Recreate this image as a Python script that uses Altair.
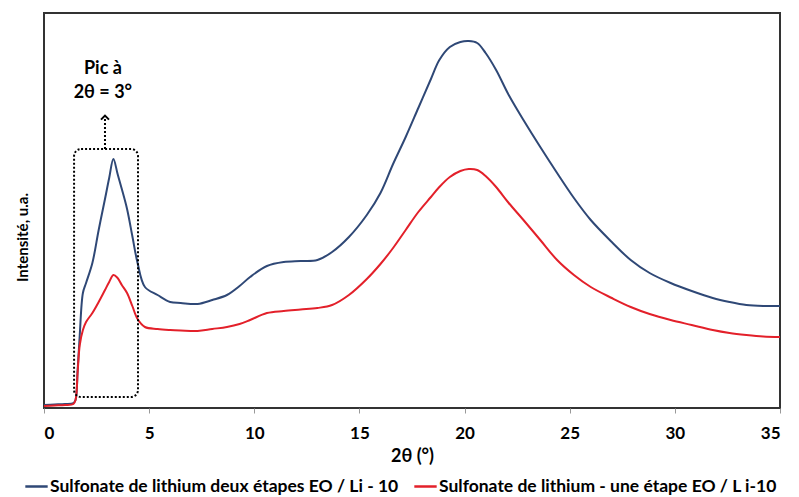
import altair as alt
import pandas as pd

# ---- data ----
two_theta = [0, 0.5, 1.0, 1.4, 1.5, 1.6, 1.7, 1.85, 2.0, 2.3,
             2.6, 2.9, 3.1, 3.3, 3.5, 3.7, 3.95, 4.2, 4.45, 4.8,
             5.4, 6.0, 6.5, 7.3, 8.0, 8.7, 9.3, 9.8, 10.6, 11.4,
             12.2, 13.0, 13.7, 14.5, 15.35, 16.0, 16.6, 17.2, 17.8, 18.4,
             18.8, 19.3, 19.8, 20.2, 20.6, 21.0, 21.5, 22.1, 22.8, 23.6,
             24.4, 25.2, 26.0, 27.0, 27.9, 28.8, 29.8, 30.8, 31.8, 32.6,
             33.4, 34.2, 35]

deux_etapes = [3, 3.5, 4, 5, 8, 38, 73, 115, 125, 145,
               178, 209, 230, 249, 234, 219, 199, 172, 145, 121,
               113, 106, 105, 104, 108, 113, 122, 131, 142, 146,
               147, 148, 156, 171, 193, 215, 244, 271, 300, 329,
               348, 361, 366, 367, 365, 355, 338, 313, 288, 261,
               235, 210, 188, 166, 148, 135, 125, 117, 110, 106,
               103, 102, 102]

une_etape = [2, 2.5, 3, 4, 8, 36, 63, 78, 86, 95,
             106, 118, 126, 133, 130, 123, 115, 102, 89, 81,
             79, 78, 77.5, 77, 79, 81, 84, 88, 95, 97,
             98.5, 100, 103, 113, 129, 144, 160, 178, 196, 211,
             221, 231, 237, 239, 238, 232, 221, 205, 188, 168,
             148, 133, 121, 110, 101, 94, 88, 83, 78, 75,
             73, 71.5, 71]

series_names = ["Sulfonate de lithium deux étapes EO / Li - 10",
                "Sulfonate de lithium - une étape EO / L i-10"]
series_colors = ["#2f4876", "#e3202a"]
x_ticks = [0, 5, 10, 15, 20, 25, 30, 35]

box_x = [1.43, 4.47]
box_y = [11, 259]
arrow_x = [2.9]
arrow_y = [259, 292]
annot_text = ["Pic à", "2θ = 3°"]
annot_x = [2.8, 2.8]
annot_y = [339, 315]

FONT = "Lato"

rows = []
for i, t in enumerate(two_theta):
    rows.append({"t": t, "I": deux_etapes[i], "s": series_names[0]})
    rows.append({"t": t, "I": une_etape[i], "s": series_names[1]})
df = pd.DataFrame(rows)

xscale = alt.Scale(domain=[0, 35], nice=False, zero=False)
yscale = alt.Scale(domain=[0, 395], nice=False, zero=False)

lines = alt.Chart(df).mark_line(strokeWidth=2, interpolate="catmull-rom").encode(
    x=alt.X("t:Q", scale=xscale, title="2θ (°)",
            axis=alt.Axis(values=x_ticks, title="2θ (°)", grid=False, domain=False,
                          tickSize=5, tickColor="#999999", tickWidth=1,
                          labelFont=FONT, labelFontSize=17, labelFontWeight="bold",
                          labelColor="black", labelPadding=12,
                          titleFont=FONT, titleFontSize=18, titleFontWeight="bold",
                          titleColor="black", titlePadding=6)),
    y=alt.Y("I:Q", scale=yscale, title="Intensité, u.a.",
            axis=alt.Axis(title="Intensité, u.a.", labels=False, ticks=False, grid=False,
                          domain=False, titleFont=FONT, titleFontSize=15,
                          titleFontWeight="bold", titleColor="black",
                          titleX=-22, titleY=224, titleAlign="center",
                          titleBaseline="middle", titleAngle=-90)),
    color=alt.Color("s:N", scale=alt.Scale(domain=series_names, range=series_colors),
                    sort=series_names,
                    legend=alt.Legend(title=None, orient="none", direction="horizontal",
                                      legendX=-20, legendY=461,
                                      symbolType="stroke", symbolSize=500,
                                      symbolStrokeWidth=2.5, labelFont=FONT,
                                      labelFontSize=17.5, labelFontWeight="bold",
                                      labelColor="black", labelLimit=600,
                                      labelOffset=1, columnPadding=10)),
)

box_df = pd.DataFrame({"t": [box_x[0]], "t2": [box_x[1]], "I": [box_y[0]], "I2": [box_y[1]]})
box = alt.Chart(box_df).mark_rect(fillOpacity=0, stroke="black", strokeWidth=2,
                                  strokeDash=[2, 2], cornerRadius=7).encode(
    x=alt.X("t:Q", scale=xscale, title="2θ (°)"), x2="t2:Q",
    y=alt.Y("I:Q", scale=yscale, title="Intensité, u.a."), y2="I2:Q")

arrow_df = pd.DataFrame({"t": arrow_x, "I": [arrow_y[0]], "I2": [arrow_y[1]]})
arrow = alt.Chart(arrow_df).mark_rule(stroke="black", strokeWidth=2, strokeDash=[2, 2]).encode(
    x=alt.X("t:Q", scale=xscale, title="2θ (°)"),
    y=alt.Y("I:Q", scale=yscale, title="Intensité, u.a."), y2="I2:Q")

head_df = pd.DataFrame({"t": arrow_x, "I": [arrow_y[1]]})
head = alt.Chart(head_df).mark_point(shape="M-1,0.9L0,-0.1L1,0.9", filled=False,
                                     size=64, stroke="black", strokeWidth=2,
                                     opacity=1).encode(
    x=alt.X("t:Q", scale=xscale, title="2θ (°)"),
    y=alt.Y("I:Q", scale=yscale, title="Intensité, u.a."))

annot_df = pd.DataFrame({"t": annot_x, "I": annot_y, "txt": annot_text})
annot = alt.Chart(annot_df).mark_text(font=FONT, fontSize=18, fontWeight="bold",
                                      color="black", align="center", baseline="middle").encode(
    x=alt.X("t:Q", scale=xscale, title="2θ (°)"),
    y=alt.Y("I:Q", scale=yscale, title="Intensité, u.a."), text="txt:N")

chart = alt.layer(lines, box, arrow, head, annot).properties(
    width=736, height=395,
    autosize=alt.AutoSizeParams(type="none"),
    padding={"left": 36, "top": 5, "right": 5, "bottom": 89},
    background="white",
).configure_view(stroke="#333333", strokeWidth=2)

chart.save("out.html", embed_options={"renderer": "svg", "actions": False})
